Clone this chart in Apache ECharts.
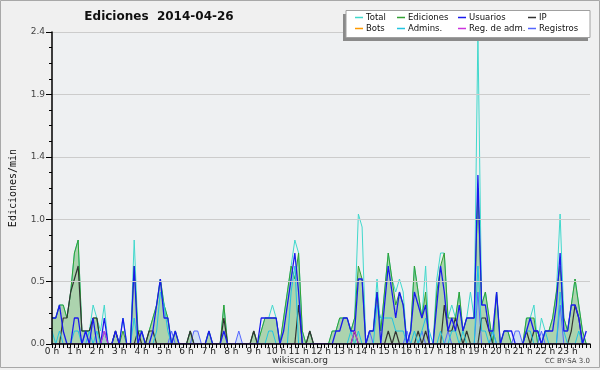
<!DOCTYPE html>
<html>
<head>
<meta charset="utf-8">
<script src="https://cdn.jsdelivr.net/npm/echarts@6/dist/echarts.min.js"></script>
<style>
  html, body { margin: 0; padding: 0; background: #f0f0f0; }
  #chart { width: 600px; height: 370px; }
</style>
</head>
<body>
<div id="chart"></div>
<script>
// one value per 10 minutes, edits per minute (24 h x 6 bins)
const hourLabels = ['0 h', '1 h', '2 h', '3 h', '4 h', '5 h', '6 h', '7 h', '8 h', '9 h', '10 h', '11 h',
  '12 h', '13 h', '14 h', '15 h', '16 h', '17 h', '18 h', '19 h', '20 h', '21 h', '22 h', '23 h'];

const total = [
  0.2, 0.2, 0.3, 0.3, 0.2, 0.4,  0.7, 0.8, 0.1, 0.1, 0.1, 0.3,  0.2, 0.1, 0.3, 0, 0, 0.1,  0, 0.2, 0, 0, 0.8, 0.1,
  0.1, 0, 0.1, 0.2, 0.3, 0.5,  0.3, 0.2, 0, 0.1, 0, 0,  0, 0.1, 0, 0, 0, 0,  0.1, 0, 0, 0, 0.3, 0,
  0, 0, 0, 0, 0, 0,  0.1, 0, 0.1, 0.2, 0.2, 0.3,  0.2, 0, 0.2, 0.4, 0.6, 0.8,  0.7, 0.1, 0, 0.1, 0, 0,
  0, 0, 0, 0.1, 0.1, 0.2,  0.2, 0.2, 0.1, 0.2, 1.0, 0.9,  0, 0.1, 0.1, 0.5, 0.1, 0.4,  0.7, 0.5, 0.4, 0.5, 0.4, 0,
  0.1, 0.6, 0.4, 0.2, 0.6, 0,  0, 0.5, 0.7, 0.7, 0.2, 0.3,  0.2, 0.4, 0.1, 0.2, 0.4, 0.2,  2.4, 0.3, 0.4, 0.2, 0, 0.4,
  0, 0.1, 0.1, 0, 0, 0,  0, 0.2, 0.2, 0.3, 0, 0.2,  0.1, 0.1, 0.2, 0.4, 1.0, 0.2,  0.1, 0.3, 0.5, 0.3, 0.1, 0
];
const ediciones = [
  0.2, 0.2, 0.3, 0.3, 0.2, 0.4,  0.7, 0.8, 0.1, 0.1, 0.1, 0.2,  0.2, 0, 0.1, 0, 0, 0.1,  0, 0.1, 0, 0, 0.6, 0.1,
  0.1, 0, 0.1, 0.2, 0.3, 0.5,  0.3, 0.2, 0, 0.1, 0, 0,  0, 0.1, 0, 0, 0, 0,  0.1, 0, 0, 0, 0.3, 0,
  0, 0, 0, 0, 0, 0,  0.1, 0, 0.1, 0.2, 0.2, 0.2,  0.2, 0, 0.2, 0.4, 0.6, 0.5,  0.7, 0.1, 0, 0.1, 0, 0,
  0, 0, 0, 0.1, 0.1, 0.2,  0.2, 0.2, 0.1, 0.2, 0.6, 0.5,  0, 0.1, 0.1, 0.4, 0.1, 0.4,  0.7, 0.5, 0.3, 0.4, 0.3, 0,
  0.1, 0.6, 0.4, 0.2, 0.4, 0,  0, 0.4, 0.6, 0.7, 0.2, 0.2,  0.2, 0.4, 0.1, 0.2, 0.2, 0.2,  1.2, 0.3, 0.4, 0.2, 0, 0.4,
  0, 0.1, 0.1, 0, 0, 0,  0, 0.2, 0.2, 0.2, 0, 0,  0.1, 0.1, 0.2, 0.4, 0.6, 0.2,  0.1, 0.3, 0.5, 0.3, 0.1, 0
];
const usuarios = [
  0.2, 0.2, 0.3, 0.1, 0, 0,  0.2, 0.2, 0, 0.1, 0, 0.2,  0, 0, 0.2, 0, 0, 0.1,  0, 0.2, 0, 0, 0.6, 0,
  0.1, 0, 0, 0.1, 0.3, 0.5,  0.2, 0.2, 0, 0.1, 0, 0,  0, 0, 0, 0, 0, 0,  0.1, 0, 0, 0, 0.1, 0,
  0, 0, 0, 0, 0, 0,  0, 0, 0.2, 0.2, 0.2, 0.2,  0.2, 0, 0.1, 0.3, 0.5, 0.7,  0.4, 0, 0, 0, 0, 0,
  0, 0, 0, 0, 0.1, 0.1,  0.2, 0.2, 0.1, 0.1, 0.5, 0.5,  0, 0.1, 0.1, 0.4, 0, 0.3,  0.6, 0.4, 0.2, 0.4, 0.3, 0,
  0.1, 0.4, 0.3, 0.2, 0.3, 0,  0, 0.3, 0.6, 0.4, 0.1, 0.2,  0.1, 0.3, 0.1, 0.2, 0.2, 0.2,  1.3, 0.3, 0.3, 0.1, 0.1, 0.4,
  0, 0.1, 0.1, 0.1, 0, 0,  0, 0.1, 0.2, 0.1, 0.1, 0,  0.1, 0.1, 0.1, 0.3, 0.7, 0.1,  0.1, 0.3, 0.3, 0.2, 0, 0.1
];
const ip = [
  0, 0, 0, 0.2, 0.2, 0.4,  0.5, 0.6, 0.1, 0.1, 0.1, 0.2,  0.2, 0, 0, 0, 0, 0.1,  0, 0, 0, 0, 0, 0.1,
  0, 0, 0.1, 0.1, 0, 0,  0, 0, 0, 0, 0, 0,  0, 0.1, 0, 0, 0, 0,  0, 0, 0, 0, 0.2, 0,
  0, 0, 0, 0, 0, 0,  0.1, 0, 0, 0, 0, 0,  0, 0, 0, 0, 0, 0,  0.3, 0, 0, 0.1, 0, 0,
  0, 0, 0, 0, 0, 0,  0, 0, 0, 0.1, 0, 0,  0, 0, 0, 0, 0, 0,  0.1, 0, 0.1, 0, 0, 0,
  0, 0, 0.1, 0, 0.1, 0,  0, 0, 0, 0.3, 0.1, 0.1,  0.2, 0.1, 0, 0.1, 0, 0,  0, 0.2, 0.2, 0.1, 0, 0,
  0, 0, 0, 0, 0, 0,  0, 0.1, 0, 0.1, 0.1, 0,  0, 0, 0, 0, 0, 0,  0, 0.1, 0.3, 0.2, 0, 0
];
const bots = [];
const admins = [
  0.1, 0, 0.1, 0, 0, 0,  0.1, 0.1, 0, 0, 0.1, 0,  0.1, 0, 0, 0, 0, 0,  0, 0, 0, 0, 0.2, 0,
  0, 0, 0, 0, 0.1, 0.4,  0.3, 0.1, 0, 0, 0, 0,  0, 0, 0, 0, 0, 0,  0, 0, 0, 0, 0, 0,
  0, 0, 0, 0, 0, 0,  0, 0, 0, 0, 0.1, 0.1,  0, 0, 0, 0, 0.4, 0.6,  0, 0, 0, 0, 0, 0,
  0, 0, 0, 0, 0, 0,  0, 0, 0.1, 0, 0.1, 0,  0, 0, 0, 0.3, 0.2, 0.2,  0.2, 0.2, 0.1, 0.1, 0.1, 0,
  0, 0.1, 0, 0.1, 0.2, 0.1,  0, 0, 0.1, 0, 0, 0.1,  0.1, 0, 0.1, 0, 0, 0,  0.6, 0.1, 0.1, 0, 0.1, 0,
  0, 0, 0, 0, 0, 0,  0, 0.1, 0.1, 0, 0, 0,  0.1, 0, 0, 0, 0.4, 0.1,  0, 0, 0, 0.1, 0, 0
];
const regAdm = [
  0, 0, 0, 0, 0, 0,  0, 0, 0, 0, 0, 0,  0, 0, 0.1, 0, 0, 0,  0, 0, 0, 0, 0, 0,
  0, 0, 0, 0, 0, 0,  0, 0, 0, 0, 0, 0,  0, 0, 0, 0, 0, 0,  0, 0, 0, 0, 0, 0,
  0, 0, 0, 0, 0, 0,  0, 0, 0, 0, 0, 0,  0, 0, 0, 0, 0, 0,  0, 0, 0, 0, 0, 0,
  0, 0, 0, 0, 0, 0,  0, 0, 0, 0.1, 0, 0,  0, 0, 0, 0, 0, 0,  0, 0, 0, 0, 0, 0,
  0, 0, 0, 0, 0, 0,  0, 0, 0, 0, 0, 0,  0, 0, 0, 0, 0, 0,  0, 0, 0, 0, 0, 0,
  0, 0, 0, 0, 0, 0,  0, 0, 0, 0, 0, 0,  0, 0, 0, 0, 0, 0,  0, 0, 0, 0, 0, 0
];
const registros = [
  0, 0, 0, 0, 0, 0,  0, 0, 0, 0.1, 0, 0,  0, 0, 0.1, 0, 0, 0,  0, 0, 0, 0, 0, 0,
  0, 0, 0, 0, 0, 0,  0, 0, 0.1, 0, 0, 0,  0, 0, 0.1, 0.1, 0, 0,  0, 0, 0, 0, 0, 0,
  0, 0, 0.1, 0, 0, 0,  0, 0, 0, 0, 0, 0,  0, 0, 0, 0, 0, 0,  0, 0, 0, 0, 0, 0,
  0, 0, 0, 0, 0, 0,  0, 0, 0, 0, 0, 0,  0, 0.1, 0, 0, 0, 0,  0, 0, 0, 0, 0, 0.1,
  0, 0, 0, 0.1, 0, 0,  0, 0, 0, 0, 0.1, 0,  0, 0, 0, 0, 0, 0,  0.4, 0, 0, 0, 0.1, 0,
  0, 0, 0, 0, 0.1, 0.1,  0, 0, 0, 0, 0, 0.1,  0, 0, 0, 0, 0.3, 0,  0, 0, 0, 0, 0, 0
];

const pts = arr => arr.map((v, i) => [i, v]);

const chart = echarts.init(document.getElementById('chart'));

const line = (name, data, color, width, extra) => Object.assign({
  name, type: 'line', data: pts(data), showSymbol: false, symbol: 'none',
  lineStyle: { color, width }, itemStyle: { color }, animation: false
}, extra || {});

// legend, laid out as the 2x4 grid of the original
const legendCells = [
  ['Total', 355, 13], ['Ediciones', 397, 13], ['Usuarios', 458, 13], ['IP', 528, 13],
  ['Bots', 355, 24], ['Admins.', 397, 24], ['Reg. de adm.', 458, 24], ['Registros', 528, 24]
];

const font = 'DejaVu Sans';

chart.setOption({
  backgroundColor: '#f0f0f0',
  animation: false,
  title: {
    text: 'Ediciones  2014-04-26', left: 154, top: 6, textAlign: 'center',
    textStyle: { fontFamily: font, fontSize: 12, fontWeight: 'bold', color: '#111' }
  },
  legend: legendCells.map(([name, x, y]) => ({
    data: [name], left: x, top: y, padding: 0, itemGap: 0,
    icon: 'rect', itemWidth: 8, itemHeight: 1.5, z: 30,
    textStyle: { fontFamily: font, fontSize: 8.5, color: '#111', padding: [0, 0, 0, -2] }
  })),
  grid: { left: 46, right: 10, top: 32, bottom: 26, show: true, backgroundColor: '#eef0f2', borderWidth: 0 },
  xAxis: {
    type: 'value', min: 0, max: 144, interval: 6, z: 10,
    axisLine: { lineStyle: { color: '#000', width: 1.5 } },
    axisTick: { length: 4, lineStyle: { color: '#000' } },
    minorTick: { show: true, splitNumber: 6, length: 4, lineStyle: { color: '#000' } },
    splitLine: { show: false },
    axisLabel: {
      formatter: v => hourLabels[v / 6] || '', margin: 3,
      fontFamily: font, fontSize: 9, color: '#222', showMaxLabel: false
    }
  },
  yAxis: {
    type: 'value', min: 0, max: 2.4, interval: 0.48, z: 10,
    name: 'Ediciones/min', nameLocation: 'middle', nameGap: 34, nameRotate: 90,
    nameTextStyle: { fontFamily: 'DejaVu Sans Mono', fontSize: 10, color: '#111' },
    axisLine: { show: true, lineStyle: { color: '#000', width: 1.5 } },
    axisTick: { show: true, length: 6, lineStyle: { color: '#000' } },
    minorTick: { show: true, splitNumber: 4, length: 3, lineStyle: { color: '#000' } },
    splitLine: { lineStyle: { color: '#cccccc' } },
    axisLabel: { formatter: v => v.toFixed(1), margin: 7, fontFamily: font, fontSize: 9, color: '#444' }
  },
  series: [
    line('Total', total, '#40d8cc', 1),
    line('Ediciones', ediciones, '#33a033', 1, { areaStyle: { color: 'rgba(51,160,51,0.5)' } }),
    line('Registros', registros, '#5566ff', 1, { areaStyle: { color: 'rgba(150,190,250,0.45)' } }),
    line('Bots', bots, '#ff9900', 1),
    line('IP', ip, '#333333', 1.2),
    line('Admins.', admins, '#22c4e0', 1),
    line('Usuarios', usuarios, '#1a1aee', 1.3),
    line('Reg. de adm.', regAdm, '#cc33dd', 1)
  ],
  graphic: [
    { type: 'rect', z: 20, shape: { x: 343, y: 14, width: 245, height: 27 }, style: { fill: '#8a8a8a' } },
    { type: 'rect', z: 21, shape: { x: 346, y: 10.5, width: 244, height: 27 }, style: { fill: '#ffffff', stroke: '#a0a0a0', lineWidth: 1 } },
    { type: 'text', z: 20, left: 'center', top: 356, style: { text: 'wikiscan.org', font: '9px DejaVu Sans', fill: '#333' } },
    { type: 'text', z: 20, right: 10, top: 358, style: { text: 'CC BY-SA 3.0', font: '7px DejaVu Sans', fill: '#444' } },
    { type: 'rect', z: 20, shape: { x: 0.5, y: 0.5, width: 599, height: 367 }, style: { fill: 'none', stroke: '#a8a8a8', lineWidth: 1 } }
  ]
});
</script>
</body>
</html>
